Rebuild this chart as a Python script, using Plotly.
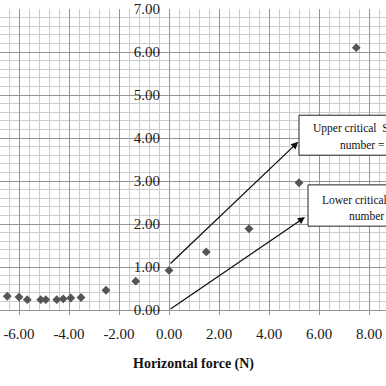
import plotly.graph_objects as go

# Data
force_n = [-6.47, -6.00, -5.67, -5.13, -4.93, -4.49, -4.23, -3.93, -3.52, -2.52, -1.33, 0.00, 1.49, 3.20, 5.20, 7.49]
stokes = [0.32, 0.30, 0.24, 0.24, 0.24, 0.24, 0.26, 0.28, 0.29, 0.46, 0.67, 0.92, 1.35, 1.89, 2.96, 6.10]

x_tick_vals = [-6, -4, -2, 0, 2, 4, 6, 8]
x_tick_text = ["-6.00", "-4.00", "-2.00", "0.00", "2.00", "4.00", "6.00", "8.00"]
y_tick_vals = [0, 1, 2, 3, 4, 5, 6, 7]
y_tick_text = ["0.00", "1.00", "2.00", "3.00", "4.00", "5.00", "6.00", "7.00"]

upper_arrow = dict(start=(0.0, 1.05), end=(5.17, 3.91))
lower_arrow = dict(start=(0.0, 0.0), end=(5.44, 2.16))

W, H = 386, 386
XMIN, XMAX = -6.76, 8.68
YMIN, YMAX = 0.0, 7.0
ML, MR, MT, MB = 0, 0, 9, 76

SERIF = "Liberation Serif, Times New Roman, serif"
MAJOR = "#959595"
MINOR = "#cdcdcd"

fig = go.Figure()
fig.add_trace(go.Scatter(
    x=force_n, y=stokes, mode="markers",
    marker=dict(symbol="diamond", size=6.8, color="#555555", line=dict(width=0)),
    cliponaxis=False, showlegend=False,
))

# boxes
fig.add_shape(type="rect", xref="x", yref="y", x0=5.2, x1=12, y0=3.60, y1=4.53,
              line=dict(color="#222", width=1), fillcolor="white", layer="above")
fig.add_shape(type="rect", xref="x", yref="y", x0=5.56, x1=12, y0=1.95, y1=2.91,
              line=dict(color="#222", width=1), fillcolor="white", layer="above")

# arrows
for a in (upper_arrow, lower_arrow):
    fig.add_annotation(x=a["end"][0], y=a["end"][1], ax=a["start"][0], ay=a["start"][1],
                       xref="x", yref="y", axref="x", ayref="y", text="",
                       showarrow=True, arrowhead=2, arrowsize=1.1, arrowwidth=1.3,
                       arrowcolor="#111")

ann_font = dict(family=SERIF, size=11.5, color="#111")
fig.add_annotation(x=5.68, y=(310 - 128) / 43, xref="x", yref="y", xanchor="left", yanchor="middle",
                   text="Upper critical  S", showarrow=False, font=ann_font)
fig.add_annotation(x=6.76, y=(310 - 145) / 43, xref="x", yref="y", xanchor="left", yanchor="middle",
                   text="number =", showarrow=False, font=ann_font)
fig.add_annotation(x=6.04, y=(310 - 200) / 43, xref="x", yref="y", xanchor="left", yanchor="middle",
                   text="Lower critical", showarrow=False, font=ann_font)
fig.add_annotation(x=7.12, y=(310 - 216) / 43, xref="x", yref="y", xanchor="left", yanchor="middle",
                   text="number", showarrow=False, font=ann_font)

# axis title
fig.add_annotation(x=0.5, y=-(364 - 310) / 301, xref="paper", yref="paper",
                   xanchor="center", yanchor="middle", showarrow=False,
                   text="<b>Horizontal force (N)</b>",
                   font=dict(family=SERIF, size=14, color="#111"))

fig.update_layout(
    width=W, height=H,
    margin=dict(l=ML, r=MR, t=MT, b=MB, pad=0),
    paper_bgcolor="white", plot_bgcolor="white",
    showlegend=False,
    xaxis=dict(
        range=[XMIN, XMAX], tickvals=x_tick_vals, ticktext=x_tick_text,
        showgrid=True, gridcolor=MAJOR, gridwidth=1,
        zeroline=True, zerolinecolor=MAJOR, zerolinewidth=1,
        ticks="outside", ticklen=4, tickcolor=MAJOR, ticklabelstandoff=6,
        showline=True, linecolor=MAJOR, linewidth=1,
        tickfont=dict(family=SERIF, size=15, color="#1a1a1a"),
        minor=dict(dtick=0.4, tick0=0, showgrid=True, gridcolor=MINOR, gridwidth=1, ticks=""),
    ),
    yaxis=dict(
        range=[YMIN, YMAX], tickvals=y_tick_vals, ticktext=y_tick_text,
        anchor="free", position=(0 - XMIN) / (XMAX - XMIN), side="left",
        showgrid=True, gridcolor=MAJOR, gridwidth=1,
        zeroline=False, showline=False,
        ticks="", ticklabelstandoff=9,
        tickfont=dict(family=SERIF, size=15, color="#1a1a1a"),
        minor=dict(dtick=0.2, tick0=0, showgrid=True, gridcolor=MINOR, gridwidth=1, ticks=""),
    ),
)

fig.write_html(
    "out.html",
    config={"displayModeBar": False},
    post_script="document.body.style.margin='0';document.body.style.overflow='hidden';",
)
